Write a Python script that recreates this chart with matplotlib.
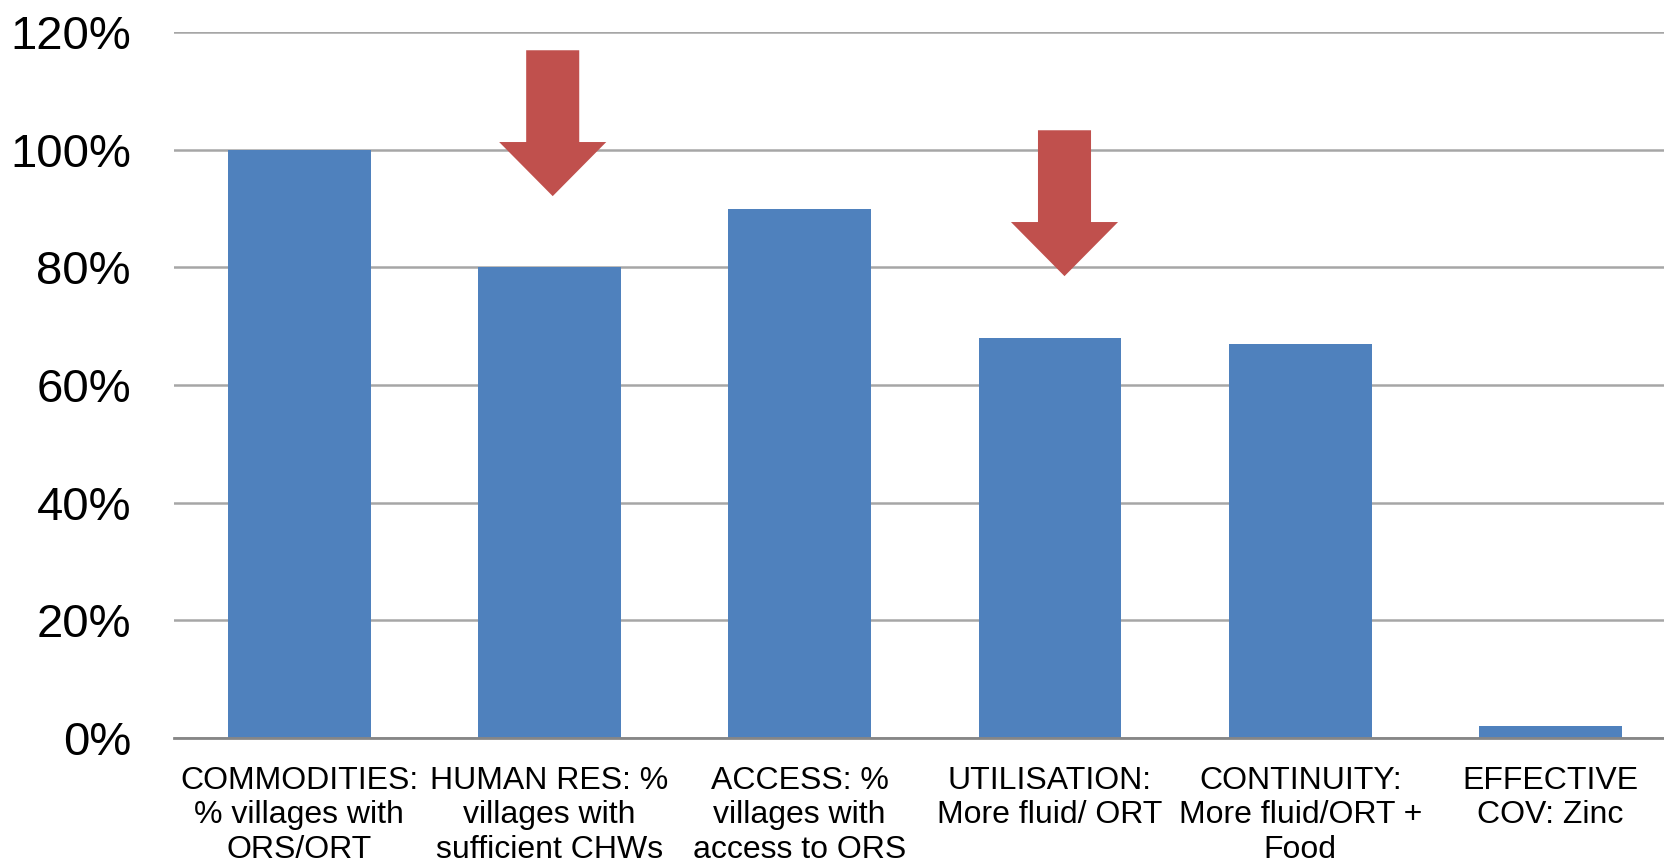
import matplotlib
matplotlib.use("Agg")
from matplotlib import pyplot as plt
from matplotlib.patches import Polygon
from matplotlib.ticker import PercentFormatter

plt.rcParams['font.family'] = ['Liberation Sans', 'DejaVu Sans']

categories = [
    "COMMODITIES:\n% villages with\nORS/ORT",
    "HUMAN RES: %\nvillages with\nsufficient CHWs",
    "ACCESS: %\nvillages with\naccess to ORS",
    "UTILISATION:\nMore fluid/ ORT",
    "CONTINUITY:\nMore fluid/ORT +\nFood",
    "EFFECTIVE\nCOV: Zinc",
]
values = [1.00, 0.80, 0.90, 0.68, 0.67, 0.02]
yticks = [0, 0.2, 0.4, 0.6, 0.8, 1.0, 1.2]

# red down arrows (x centre, top of shaft, base of head, tip)
arrows = [
    (1.013, 1.169, 1.013, 0.921),
    (3.058, 1.033, 0.877, 0.785),
]

fig = plt.figure(figsize=(16.64, 8.63), dpi=100)
ax = fig.add_axes([0.1046, 0.1449, 0.9024, 0.818])

x = range(len(categories))
ax.bar(x, values, width=0.57, color="#4F81BD", zorder=2)

ax.set_ylim(0, 1.2)
ax.set_xlim(-0.5, len(categories) - 0.5)
ax.set_yticks(yticks)
ax.yaxis.set_major_formatter(PercentFormatter(1.0, decimals=0))
ax.set_xticks(list(x))
ax.set_xticklabels(categories, fontsize=23, linespacing=1.2)
ax.tick_params(axis='y', length=0, pad=31, labelsize=34)
ax.tick_params(axis='x', length=0, pad=20)

ax.grid(axis='y', color="#A6A6A6", linewidth=1.8, zorder=0)
ax.set_axisbelow(True)
for s in ["top", "right", "left"]:
    ax.spines[s].set_visible(False)
ax.spines["bottom"].set_color("#868686")
ax.spines["bottom"].set_linewidth(2)
ax.spines["bottom"].set_zorder(3)

sw = 0.106  # half shaft width
hw = 0.214  # half head width
for cx, top, base, tip in arrows:
    pts = [(cx - sw, top), (cx + sw, top), (cx + sw, base), (cx + hw, base),
           (cx, tip), (cx - hw, base), (cx - sw, base)]
    ax.add_patch(Polygon(pts, closed=True, facecolor="#C0504D", edgecolor="none",
                         zorder=4, clip_on=False))

fig.savefig("out.png", dpi=100)
